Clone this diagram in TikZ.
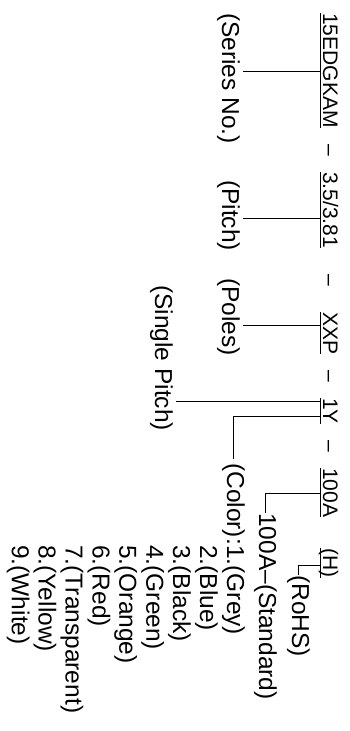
\documentclass[tikz,border=0pt]{standalone}
\usepackage{fontspec}
\setmainfont{Liberation Sans}
\usetikzlibrary{calc}
\tikzset{
  code/.style={rotate=-90,inner sep=0pt,anchor=base west,font=\fontsize{21}{21}\selectfont},
  lbl/.style={rotate=-90,inner sep=0pt,anchor=base west,font=\fontsize{24.5}{24.5}\selectfont},
  lead/.style={line width=0.8pt},
}
\begin{document}
\begin{tikzpicture}[x=1pt,y=-1pt]
\useasboundingbox (0,0) rectangle (350,731);
\node[code] (c1) at (323,13) {15EDGKAM};
\node[code] (c2) at (323,172) {3.5/3.81};
\node[code] (c3) at (323,312) {XXP};
\node[code] (c4) at (323,398) {1Y};
\node[code] (c5) at (323,468) {100A};
\node[code] (c6) at (323,548) {(H)};
\foreach \a/\b [count=\i] in {c1/c2,c2/c3,c3/c4,c4/c5}
  \node[code,anchor=base] (d\i) at ($(\a.base east)!0.5!(\b.base west)$) {\textendash};
\foreach \i in {1,...,6}
  \draw[lead] ([xshift=-3pt]c\i.base west) -- ([xshift=-3pt]c\i.base east);
\node[lbl] (lseries) at (222,13) {(Series No.)};
\node[lbl] (lpitch) at (222,180) {(Pitch)};
\node[lbl] (lpoles) at (222,278) {(Poles)};
\node[lbl] (lsingle) at (155,285) {(Single Pitch)};
\node[lbl] (lcolor) at (227,463) {(Color):};
\node[lbl] (g1) at (lcolor.base east) {1.(Grey)};
\foreach \n/\c in {2/Blue,3/Black,4/Green,5/Orange,6/Red,7/Transparent,8/Yellow,9/White}
  \node[lbl] (g\n) at ([xshift={-26.9pt*(\n-1)}]g1.base west) {\n.(\c)};
\node[lbl] (lstd) at (259,513) {100A\textendash(Standard)};
\node[lbl] (lrohs) at (292,575) {(RoHS)};
\coordinate (j1) at (320,71);
\coordinate (j2) at (320,218);
\coordinate (j3) at (320,325);
\coordinate (j4a) at (320,401);
\coordinate (j4b) at (320,416);
\coordinate (j5) at (320,493);
\coordinate (j6) at (320,565);
\draw[lead,shorten >=3pt] (j1) -- (j1 -| lseries.north);
\draw[lead,shorten >=3pt] (j2) -- (j2 -| lpitch.north);
\draw[lead,shorten >=3pt] (j3) -- (j3 -| lpoles.north);
\draw[lead,shorten >=3pt] (j4a) -- (j4a -| lsingle.north);
\draw[lead,shorten >=4pt] (j4b) -| (lcolor.west);
\draw[lead] (j5) -| (lstd.west);
\draw[lead] (j6) -| (lrohs.west);
\end{tikzpicture}
\end{document}
